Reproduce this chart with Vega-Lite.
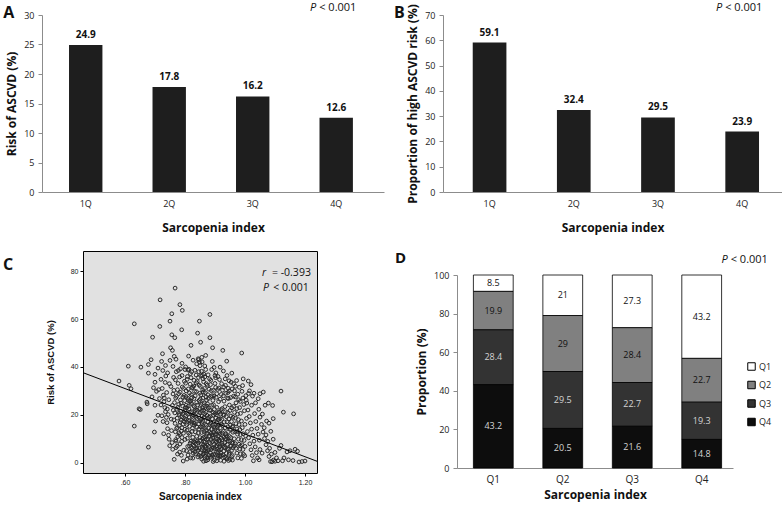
{
  "$schema": "https://vega.github.io/schema/vega-lite/v6.json",
  "padding": {"left": 2, "top": 2, "right": 0, "bottom": 0},
  "background": "white",
  "config": {
    "font": "Open Sans",
    "view": {"stroke": null},
    "axis": {"labelColor": "#222", "titleColor": "#111", "domainColor": "#8c8c8c", "tickColor": "#8c8c8c", "grid": false, "labelFontSize": 9, "titleFontSize": 12, "titleFontWeight": "bold"}
  },
  "resolve": {"scale": {"color": "independent"}, "legend": {"color": "independent"}},
  "concat": [
    {
      "concat": [
        {
          "width": 301, "height": 177,
          "data": {"values": [{"q": "1Q", "v": 24.9}, {"q": "2Q", "v": 17.8}, {"q": "3Q", "v": 16.2}, {"q": "4Q", "v": 12.6}]},
          "layer": [
            {"mark": {"type": "bar", "color": "#1e1e1e"},
             "encoding": {
               "x": {"field": "q", "type": "nominal", "scale": {"range": [-41, 301], "paddingInner": 0.6, "paddingOuter": 0.348, "align": 0.465}, "axis": {"title": "Sarcopenia index", "labelAngle": 0, "ticks": false, "labelPadding": 7, "titlePadding": 14}},
               "y": {"field": "v", "type": "quantitative", "scale": {"domain": [0, 30], "nice": false}, "axis": {"title": "Risk of ASCVD (%)", "values": [0, 5, 10, 15, 20, 25, 30], "offset": 41, "tickSize": 4, "labelPadding": 4, "titlePadding": 5}}
             }},
            {"mark": {"type": "text", "dy": -7, "baseline": "alphabetic", "fontSize": 10, "fontWeight": "bold", "color": "#111"},
             "encoding": {
               "x": {"field": "q", "type": "nominal", "axis": {"title": "Sarcopenia index", "labelAngle": 0, "ticks": false, "labelPadding": 7, "titlePadding": 14}},
               "y": {"field": "v", "type": "quantitative", "axis": {"title": "Risk of ASCVD (%)", "values": [0, 5, 10, 15, 20, 25, 30], "offset": 41, "tickSize": 4, "labelPadding": 4, "titlePadding": 5}},
               "text": {"field": "v", "type": "quantitative", "format": ".1f"}}},
            {"data": {"values": [{}]}, "mark": {"type": "text", "text": "A", "fontSize": 16, "fontWeight": "bold", "align": "left", "baseline": "alphabetic", "dx": -82.5, "color": "#111"},
             "encoding": {"x": {"datum": "1Q", "axis": {"title": "Sarcopenia index", "labelAngle": 0, "ticks": false, "labelPadding": 7, "titlePadding": 14}}, "y": {"datum": 29.5, "axis": {"title": "Risk of ASCVD (%)", "values": [0, 5, 10, 15, 20, 25, 30], "offset": 41, "tickSize": 4, "labelPadding": 4, "titlePadding": 5}}}},
            {"data": {"values": [{}]}, "mark": {"type": "text", "text": "P", "fontStyle": "italic", "fontSize": 11, "align": "right", "baseline": "alphabetic", "dx": -20, "color": "#111"},
             "encoding": {"x": {"datum": "4Q", "axis": {"title": "Sarcopenia index", "labelAngle": 0, "ticks": false, "labelPadding": 7, "titlePadding": 14}}, "y": {"datum": 30.66, "axis": {"title": "Risk of ASCVD (%)", "values": [0, 5, 10, 15, 20, 25, 30], "offset": 41, "tickSize": 4, "labelPadding": 4, "titlePadding": 5}}}},
            {"data": {"values": [{}]}, "mark": {"type": "text", "text": "< 0.001", "fontSize": 11, "align": "left", "baseline": "alphabetic", "dx": -17, "color": "#111"},
             "encoding": {"x": {"datum": "4Q", "axis": {"title": "Sarcopenia index", "labelAngle": 0, "ticks": false, "labelPadding": 7, "titlePadding": 14}}, "y": {"datum": 30.66, "axis": {"title": "Risk of ASCVD (%)", "values": [0, 5, 10, 15, 20, 25, 30], "offset": 41, "tickSize": 4, "labelPadding": 4, "titlePadding": 5}}}}
          ]
        },
        {
          "width": 339, "height": 177,
          "data": {"values": [{"q": "1Q", "v": 59.1}, {"q": "2Q", "v": 32.4}, {"q": "3Q", "v": 29.5}, {"q": "4Q", "v": 23.9}]},
          "layer": [
            {"mark": {"type": "bar", "color": "#1e1e1e"},
             "encoding": {
               "x": {"field": "q", "type": "nominal", "scale": {"paddingInner": 0.6, "paddingOuter": 0.313, "align": 0.564}, "axis": {"title": "Sarcopenia index", "labelAngle": 0, "ticks": false, "labelPadding": 7, "titlePadding": 14}},
               "y": {"field": "v", "type": "quantitative", "scale": {"domain": [0, 70], "nice": false}, "axis": {"title": "Proportion of high ASCVD risk (%)", "values": [0, 10, 20, 30, 40, 50, 60, 70], "tickSize": 4, "labelPadding": 4, "titlePadding": 5}}
             }},
            {"mark": {"type": "text", "dy": -7, "baseline": "alphabetic", "fontSize": 10, "fontWeight": "bold", "color": "#111"},
             "encoding": {
               "x": {"field": "q", "type": "nominal", "axis": {"title": "Sarcopenia index", "labelAngle": 0, "ticks": false, "labelPadding": 7, "titlePadding": 14}},
               "y": {"field": "v", "type": "quantitative", "axis": {"title": "Proportion of high ASCVD risk (%)", "values": [0, 10, 20, 30, 40, 50, 60, 70], "tickSize": 4, "labelPadding": 4, "titlePadding": 5}},
               "text": {"field": "v", "type": "quantitative", "format": ".1f"}}},
            {"data": {"values": [{}]}, "mark": {"type": "text", "text": "B", "fontSize": 16, "fontWeight": "bold", "align": "left", "baseline": "alphabetic", "dx": -95.5, "color": "#111"},
             "encoding": {"x": {"datum": "1Q", "axis": {"title": "Sarcopenia index", "labelAngle": 0, "ticks": false, "labelPadding": 7, "titlePadding": 14}}, "y": {"datum": 68.8, "axis": {"title": "Proportion of high ASCVD risk (%)", "values": [0, 10, 20, 30, 40, 50, 60, 70], "tickSize": 4, "labelPadding": 4, "titlePadding": 5}}}},
            {"data": {"values": [{}]}, "mark": {"type": "text", "text": "P", "fontStyle": "italic", "fontSize": 11, "align": "right", "baseline": "alphabetic", "dx": -20, "color": "#111"},
             "encoding": {"x": {"datum": "4Q", "axis": {"title": "Sarcopenia index", "labelAngle": 0, "ticks": false, "labelPadding": 7, "titlePadding": 14}}, "y": {"datum": 71.5, "axis": {"title": "Proportion of high ASCVD risk (%)", "values": [0, 10, 20, 30, 40, 50, 60, 70], "tickSize": 4, "labelPadding": 4, "titlePadding": 5}}}},
            {"data": {"values": [{}]}, "mark": {"type": "text", "text": "< 0.001", "fontSize": 11, "align": "left", "baseline": "alphabetic", "dx": -17, "color": "#111"},
             "encoding": {"x": {"datum": "4Q", "axis": {"title": "Sarcopenia index", "labelAngle": 0, "ticks": false, "labelPadding": 7, "titlePadding": 14}}, "y": {"datum": 71.5, "axis": {"title": "Proportion of high ASCVD risk (%)", "values": [0, 10, 20, 30, 40, 50, 60, 70], "tickSize": 4, "labelPadding": 4, "titlePadding": 5}}}}
          ]
        }
      ],
      "columns": 2, "align": "none", "spacing": -31
    },
    {
      "concat": [
        {
          "width": 234, "height": 222,
          "view": {"fill": "#e1e1e1", "stroke": "#000000", "strokeWidth": 1},
          "layer": [
            {
              "data": {"values": [
{"x":0.58,"y":34.1},{"x":0.611,"y":40.3},{"x":0.614,"y":32.3},{"x":0.62,"y":30.9},{"x":0.631,"y":58.0},{"x":0.631,"y":15.3},{"x":0.647,"y":22.5},{"x":0.651,"y":22.2},{"x":0.653,"y":39.9},{"x":0.673,"y":25.3},{"x":0.674,"y":24.6},{"x":0.678,"y":41.0},{"x":0.678,"y":37.4},{"x":0.678,"y":6.5},{"x":0.687,"y":43.0},{"x":0.692,"y":52.4},{"x":0.695,"y":31.3},{"x":0.698,"y":12.8},{"x":0.7,"y":36.9},{"x":0.702,"y":17.4},{"x":0.69,"y":27.5},{"x":0.7,"y":24.0},{"x":0.705,"y":29.8},{"x":0.71,"y":19.8},{"x":0.712,"y":30.5},
{"x":0.716,"y":56.9},{"x":0.717,"y":68.0},{"x":0.722,"y":42.3},{"x":0.726,"y":38.5},{"x":0.72,"y":34.8},{"x":0.724,"y":31.0},{"x":0.728,"y":28.2},{"x":0.73,"y":25.5},{"x":0.733,"y":23.0},{"x":0.735,"y":21.3},{"x":0.738,"y":18.9},{"x":0.74,"y":16.7},{"x":0.742,"y":14.2},{"x":0.745,"y":11.5},{"x":0.747,"y":9.8},{"x":0.749,"y":7.1},{"x":0.72,"y":24.1},{"x":0.723,"y":19.6},{"x":0.727,"y":17.2},{"x":0.729,"y":12.1},{"x":0.731,"y":27.0},{"x":0.734,"y":33.5},{"x":0.736,"y":36.2},{"x":0.739,"y":29.3},{"x":0.741,"y":22.4},{"x":0.744,"y":20.1},{"x":0.746,"y":26.3},{"x":0.75,"y":42.7},{"x":0.75,"y":59.1},{"x":0.752,"y":48.0},{"x":0.753,"y":31.8},{"x":0.754,"y":18.2},{"x":0.755,"y":13.4},{"x":0.756,"y":62.2},{"x":0.756,"y":53.4},{"x":0.757,"y":8.4},{"x":0.758,"y":46.9},{"x":0.758,"y":23.9},{"x":0.759,"y":5.6},{"x":0.76,"y":28.7},
{"x":0.764,"y":44.4},{"x":0.766,"y":52.2},{"x":0.767,"y":72.9},{"x":0.764,"y":1.4},{"x":0.762,"y":35.6},{"x":0.763,"y":30.2},{"x":0.765,"y":25.1},{"x":0.766,"y":20.8},{"x":0.767,"y":16.4},{"x":0.768,"y":12.9},{"x":0.769,"y":9.6},{"x":0.77,"y":6.3},{"x":0.771,"y":38.0},{"x":0.772,"y":27.7},{"x":0.773,"y":22.3},{"x":0.774,"y":18.6},{"x":0.775,"y":14.7},{"x":0.776,"y":10.9},{"x":0.777,"y":33.1},{"x":0.778,"y":38.5},{"x":0.779,"y":24.4},{"x":0.78,"y":19.9},{"x":0.781,"y":15.5},{"x":0.782,"y":11.7},{"x":0.783,"y":66.0},{"x":0.783,"y":7.8},{"x":0.784,"y":29.4},{"x":0.785,"y":26.2},{"x":0.786,"y":21.5},{"x":0.787,"y":17.8},{"x":0.788,"y":13.2},{"x":0.789,"y":55.5},{"x":0.789,"y":8.9},{"x":0.79,"y":36.4},{"x":0.791,"y":63.6},{"x":0.791,"y":31.6},{"x":0.792,"y":23.7},{"x":0.793,"y":20.3},{"x":0.794,"y":0.7},{"x":0.794,"y":16.1},{"x":0.795,"y":12.3},{"x":0.796,"y":5.2},{"x":0.797,"y":28.1},{"x":0.798,"y":34.0},{"x":0.799,"y":25.9},{"x":0.8,"y":38.9},{"x":0.8,"y":22.0},{"x":0.8,"y":18.4},{"x":0.8,"y":14.0},{"x":0.8,"y":9.7},{"x":0.761,"y":21.9},{"x":0.763,"y":17.9},{"x":0.769,"y":27.0},{"x":0.772,"y":14.3},{"x":0.776,"y":23.1},{"x":0.779,"y":28.8},{"x":0.781,"y":20.6},{"x":0.784,"y":17.0},{"x":0.787,"y":24.8},{"x":0.79,"y":19.2},{"x":0.793,"y":27.4},{"x":0.796,"y":21.0},{"x":0.798,"y":17.1},{"x":0.774,"y":6.9},{"x":0.782,"y":4.4},{"x":0.788,"y":3.1},{"x":0.77,"y":43.2},{"x":0.785,"y":39.2},
{"x":0.802,"y":33.2},{"x":0.803,"y":27.6},{"x":0.804,"y":24.0},{"x":0.805,"y":20.7},{"x":0.806,"y":16.9},{"x":0.807,"y":13.6},{"x":0.808,"y":10.2},{"x":0.809,"y":6.8},{"x":0.81,"y":38.7},{"x":0.811,"y":30.8},{"x":0.812,"y":26.0},{"x":0.813,"y":22.5},{"x":0.814,"y":19.1},{"x":0.815,"y":15.2},{"x":0.816,"y":11.8},{"x":0.817,"y":8.1},{"x":0.818,"y":4.7},{"x":0.819,"y":2.0},{"x":0.82,"y":49.0},{"x":0.82,"y":35.5},{"x":0.821,"y":28.4},{"x":0.822,"y":24.7},{"x":0.823,"y":21.3},{"x":0.824,"y":17.6},{"x":0.825,"y":14.4},{"x":0.826,"y":10.6},{"x":0.827,"y":7.4},{"x":0.828,"y":3.9},{"x":0.829,"y":32.0},{"x":0.83,"y":26.8},{"x":0.831,"y":23.4},{"x":0.832,"y":19.8},{"x":0.833,"y":16.3},{"x":0.834,"y":12.9},{"x":0.835,"y":9.2},{"x":0.836,"y":5.8},{"x":0.837,"y":36.6},{"x":0.838,"y":29.7},{"x":0.839,"y":41.3},{"x":0.839,"y":25.2},{"x":0.84,"y":21.9},{"x":0.84,"y":18.2},{"x":0.84,"y":14.8},{"x":0.84,"y":6.1},{"x":0.842,"y":54.1},{"x":0.844,"y":43.4},{"x":0.803,"y":18.0},{"x":0.806,"y":22.9},{"x":0.809,"y":26.9},{"x":0.812,"y":12.4},{"x":0.815,"y":29.1},{"x":0.818,"y":21.0},{"x":0.821,"y":17.0},{"x":0.824,"y":13.1},{"x":0.827,"y":20.0},{"x":0.83,"y":15.7},{"x":0.833,"y":8.5},{"x":0.836,"y":22.2},{"x":0.839,"y":11.0},{"x":0.805,"y":5.0},{"x":0.81,"y":3.2},{"x":0.815,"y":7.0},{"x":0.82,"y":9.0},{"x":0.825,"y":5.3},{"x":0.83,"y":6.9},{"x":0.835,"y":3.7},{"x":0.804,"y":30.0},{"x":0.808,"y":36.0},{"x":0.813,"y":39.0},{"x":0.817,"y":32.8},{"x":0.822,"y":38.0},{"x":0.826,"y":31.5},{"x":0.83,"y":34.4},{"x":0.834,"y":27.9},{"x":0.838,"y":33.3},{"x":0.811,"y":23.6},{"x":0.816,"y":25.5},{"x":0.823,"y":27.2},{"x":0.828,"y":23.9},{"x":0.832,"y":29.8},{"x":0.807,"y":1.5},{"x":0.826,"y":1.9},{"x":0.841,"y":9.0},{"x":0.843,"y":2.4},
{"x":0.848,"y":59.1},{"x":0.852,"y":50.3},{"x":0.846,"y":43.0},{"x":0.848,"y":42.0},{"x":0.85,"y":40.5},{"x":0.855,"y":38.2},{"x":0.858,"y":36.5},{"x":0.86,"y":35.0},{"x":0.862,"y":33.8},{"x":0.865,"y":31.0},{"x":0.868,"y":29.2},{"x":0.87,"y":27.5},{"x":0.872,"y":26.1},{"x":0.875,"y":24.6},{"x":0.878,"y":22.8},{"x":0.845,"y":35.6},{"x":0.847,"y":32.4},{"x":0.849,"y":29.0},{"x":0.851,"y":26.6},{"x":0.853,"y":24.3},{"x":0.855,"y":21.7},{"x":0.857,"y":19.5},{"x":0.859,"y":17.3},{"x":0.861,"y":15.1},{"x":0.863,"y":13.0},{"x":0.865,"y":10.8},{"x":0.867,"y":8.6},{"x":0.869,"y":6.4},{"x":0.871,"y":4.3},{"x":0.873,"y":2.2},{"x":0.846,"y":20.0},{"x":0.849,"y":17.5},{"x":0.852,"y":15.0},{"x":0.855,"y":12.6},{"x":0.858,"y":10.0},{"x":0.861,"y":7.5},{"x":0.864,"y":5.0},{"x":0.867,"y":2.7},{"x":0.87,"y":0.8},{"x":0.873,"y":19.8},{"x":0.876,"y":17.0},{"x":0.879,"y":14.4},{"x":0.845,"y":8.2},{"x":0.848,"y":6.0},{"x":0.851,"y":4.0},{"x":0.854,"y":7.8},{"x":0.857,"y":5.5},{"x":0.86,"y":3.3},{"x":0.863,"y":8.9},{"x":0.866,"y":6.8},{"x":0.869,"y":4.9},{"x":0.872,"y":9.6},{"x":0.875,"y":7.3},{"x":0.878,"y":5.1},{"x":0.88,"y":3.0},{"x":0.845,"y":12.5},{"x":0.85,"y":10.5},{"x":0.856,"y":14.8},{"x":0.862,"y":18.8},{"x":0.868,"y":16.0},{"x":0.874,"y":12.2},{"x":0.877,"y":9.9},{"x":0.847,"y":26.0},{"x":0.853,"y":28.3},{"x":0.859,"y":30.4},{"x":0.864,"y":25.0},{"x":0.87,"y":21.0},{"x":0.876,"y":28.4},{"x":0.869,"y":38.9},{"x":0.883,"y":61.9},{"x":0.883,"y":52.2},{"x":0.889,"y":38.9},{"x":0.869,"y":44.8},{"x":0.866,"y":35.8},{"x":0.85,"y":22.5},{"x":0.854,"y":18.0},{"x":0.858,"y":24.7},{"x":0.862,"y":22.0},{"x":0.866,"y":20.4},{"x":0.871,"y":15.6},{"x":0.874,"y":32.4},{"x":0.878,"y":26.8},{"x":0.88,"y":19.0},{"x":0.88,"y":11.0},{"x":0.856,"y":1.5},{"x":0.862,"y":0.6},{"x":0.876,"y":1.2},{"x":0.846,"y":16.2},{"x":0.86,"y":27.0},{"x":0.872,"y":13.5},{"x":0.867,"y":23.0},{"x":0.852,"y":36.3},{"x":0.857,"y":42.1},{"x":0.863,"y":37.0},
{"x":0.892,"y":48.0},{"x":0.882,"y":35.0},{"x":0.885,"y":32.6},{"x":0.888,"y":30.1},{"x":0.89,"y":28.0},{"x":0.893,"y":26.0},{"x":0.895,"y":24.2},{"x":0.898,"y":22.3},{"x":0.9,"y":20.5},{"x":0.903,"y":18.7},{"x":0.905,"y":16.8},{"x":0.908,"y":15.0},{"x":0.91,"y":13.1},{"x":0.912,"y":11.3},{"x":0.915,"y":9.4},{"x":0.918,"y":7.6},{"x":0.92,"y":5.7},{"x":0.882,"y":22.0},{"x":0.884,"y":19.3},{"x":0.886,"y":16.6},{"x":0.888,"y":14.0},{"x":0.89,"y":11.4},{"x":0.892,"y":8.8},{"x":0.894,"y":6.2},{"x":0.896,"y":3.6},{"x":0.898,"y":1.1},{"x":0.9,"y":36.4},{"x":0.902,"y":31.4},{"x":0.904,"y":27.3},{"x":0.906,"y":23.1},{"x":0.908,"y":20.9},{"x":0.91,"y":17.9},{"x":0.912,"y":25.5},{"x":0.914,"y":21.2},{"x":0.916,"y":18.4},{"x":0.918,"y":14.6},{"x":0.884,"y":8.0},{"x":0.887,"y":5.5},{"x":0.89,"y":3.2},{"x":0.893,"y":10.4},{"x":0.896,"y":12.7},{"x":0.899,"y":9.2},{"x":0.902,"y":6.8},{"x":0.905,"y":4.4},{"x":0.908,"y":2.0},{"x":0.911,"y":7.9},{"x":0.914,"y":5.3},{"x":0.917,"y":3.0},{"x":0.919,"y":1.0},{"x":0.885,"y":27.6},{"x":0.889,"y":24.0},{"x":0.893,"y":21.0},{"x":0.897,"y":17.0},{"x":0.901,"y":14.6},{"x":0.905,"y":11.9},{"x":0.909,"y":9.9},{"x":0.913,"y":15.9},{"x":0.917,"y":12.0},{"x":0.92,"y":10.2},{"x":0.887,"y":12.3},{"x":0.891,"y":15.8},{"x":0.895,"y":19.9},{"x":0.899,"y":13.8},{"x":0.903,"y":10.0},{"x":0.907,"y":7.1},{"x":0.911,"y":4.6},{"x":0.915,"y":2.6},{"x":0.919,"y":20.3},{"x":0.92,"y":16.0},{"x":0.895,"y":30.2},{"x":0.9,"y":33.1},{"x":0.906,"y":28.8},{"x":0.913,"y":31.2},{"x":0.917,"y":26.5},{"x":0.91,"y":36.0},{"x":0.897,"y":39.8},{"x":0.903,"y":37.5},{"x":0.917,"y":39.9},{"x":0.894,"y":0.5},{"x":0.906,"y":0.8},{"x":0.881,"y":6.8},{"x":0.886,"y":2.3},{"x":0.899,"y":5.9},{"x":0.912,"y":18.2},{"x":0.884,"y":16.0},
{"x":0.926,"y":46.9},{"x":0.939,"y":42.4},{"x":0.94,"y":36.4},{"x":0.922,"y":33.0},{"x":0.925,"y":30.3},{"x":0.928,"y":27.9},{"x":0.93,"y":25.7},{"x":0.933,"y":23.4},{"x":0.935,"y":21.3},{"x":0.938,"y":19.2},{"x":0.94,"y":17.1},{"x":0.943,"y":15.0},{"x":0.945,"y":13.0},{"x":0.948,"y":11.0},{"x":0.95,"y":9.0},{"x":0.953,"y":7.0},{"x":0.955,"y":5.0},{"x":0.958,"y":3.0},{"x":0.922,"y":18.1},{"x":0.925,"y":15.5},{"x":0.928,"y":13.1},{"x":0.93,"y":10.7},{"x":0.933,"y":8.3},{"x":0.935,"y":6.1},{"x":0.938,"y":3.9},{"x":0.94,"y":1.7},{"x":0.943,"y":29.3},{"x":0.945,"y":26.8},{"x":0.948,"y":24.1},{"x":0.95,"y":21.8},{"x":0.953,"y":19.5},{"x":0.955,"y":17.2},{"x":0.958,"y":14.9},{"x":0.96,"y":12.7},{"x":0.923,"y":9.6},{"x":0.926,"y":7.2},{"x":0.929,"y":4.8},{"x":0.932,"y":2.4},{"x":0.935,"y":12.0},{"x":0.938,"y":9.8},{"x":0.941,"y":7.7},{"x":0.944,"y":5.6},{"x":0.947,"y":3.5},{"x":0.95,"y":1.4},{"x":0.953,"y":10.5},{"x":0.956,"y":8.4},{"x":0.959,"y":6.3},{"x":0.924,"y":22.6},{"x":0.927,"y":20.1},{"x":0.931,"y":17.0},{"x":0.934,"y":14.6},{"x":0.937,"y":11.3},{"x":0.942,"y":21.0},{"x":0.946,"y":18.3},{"x":0.951,"y":15.7},{"x":0.956,"y":22.9},{"x":0.96,"y":19.0},{"x":0.929,"y":31.5},{"x":0.936,"y":29.0},{"x":0.944,"y":31.1},{"x":0.952,"y":27.2},{"x":0.957,"y":30.8},{"x":0.934,"y":35.0},{"x":0.956,"y":37.4},{"x":0.947,"y":34.2},{"x":0.921,"y":3.0},{"x":0.93,"y":0.6},{"x":0.945,"y":0.9},{"x":0.958,"y":1.1},
{"x":0.962,"y":33.0},{"x":0.965,"y":30.0},{"x":0.968,"y":27.5},{"x":0.97,"y":25.0},{"x":0.973,"y":22.6},{"x":0.975,"y":20.3},{"x":0.978,"y":18.0},{"x":0.98,"y":15.9},{"x":0.983,"y":13.8},{"x":0.985,"y":11.7},{"x":0.988,"y":9.6},{"x":0.99,"y":7.5},{"x":0.993,"y":5.5},{"x":0.995,"y":3.5},{"x":0.962,"y":23.5},{"x":0.965,"y":21.0},{"x":0.968,"y":18.6},{"x":0.97,"y":16.3},{"x":0.973,"y":14.1},{"x":0.975,"y":11.9},{"x":0.978,"y":9.8},{"x":0.98,"y":7.7},{"x":0.983,"y":5.7},{"x":0.985,"y":3.7},{"x":0.988,"y":1.8},{"x":0.989,"y":45.8},{"x":0.994,"y":35.0},{"x":0.99,"y":29.8},{"x":0.993,"y":27.0},{"x":0.996,"y":24.3},{"x":0.998,"y":21.7},{"x":0.964,"y":10.0},{"x":0.967,"y":8.0},{"x":0.97,"y":6.0},{"x":0.973,"y":4.0},{"x":0.976,"y":2.0},{"x":0.979,"y":26.3},{"x":0.982,"y":23.0},{"x":0.985,"y":20.6},{"x":0.988,"y":17.4},{"x":0.991,"y":14.6},{"x":0.994,"y":12.1},{"x":0.997,"y":9.3},{"x":1.0,"y":6.8},{"x":1.0,"y":16.0},{"x":0.981,"y":31.5},{"x":0.972,"y":34.3},{"x":0.999,"y":2.9},{"x":0.96,"y":15.3},{"x":0.966,"y":13.0},
{"x":1.011,"y":34.1},{"x":1.003,"y":28.0},{"x":1.006,"y":24.9},{"x":1.01,"y":22.0},{"x":1.014,"y":19.3},{"x":1.018,"y":16.6},{"x":1.022,"y":14.0},{"x":1.026,"y":11.5},{"x":1.03,"y":9.0},{"x":1.034,"y":6.6},{"x":1.038,"y":4.2},{"x":1.042,"y":2.0},{"x":1.005,"y":18.5},{"x":1.008,"y":13.0},{"x":1.012,"y":10.4},{"x":1.016,"y":7.9},{"x":1.02,"y":5.4},{"x":1.024,"y":3.0},{"x":1.028,"y":0.8},{"x":1.032,"y":20.5},{"x":1.036,"y":17.2},{"x":1.04,"y":14.3},{"x":1.044,"y":11.9},{"x":1.048,"y":9.4},{"x":1.044,"y":26.7},{"x":1.05,"y":28.8},{"x":1.05,"y":19.0},{"x":1.046,"y":22.3},{"x":1.035,"y":25.0},{"x":1.025,"y":27.8},{"x":1.015,"y":30.0},{"x":1.02,"y":32.6},{"x":1.05,"y":5.5},{"x":1.047,"y":1.2},{"x":1.002,"y":11.2},
{"x":1.061,"y":29.5},{"x":1.078,"y":24.9},{"x":1.092,"y":23.9},{"x":1.094,"y":18.4},{"x":1.055,"y":16.0},{"x":1.06,"y":12.8},{"x":1.065,"y":10.1},{"x":1.07,"y":7.5},{"x":1.075,"y":5.0},{"x":1.08,"y":2.6},{"x":1.085,"y":0.5},{"x":1.09,"y":0.4},{"x":1.095,"y":1.1},{"x":1.1,"y":0.6},{"x":1.058,"y":20.3},{"x":1.064,"y":14.6},{"x":1.07,"y":11.6},{"x":1.076,"y":8.9},{"x":1.082,"y":6.0},{"x":1.088,"y":3.6},{"x":1.094,"y":9.8},{"x":1.1,"y":4.3},{"x":1.105,"y":2.0},{"x":1.11,"y":0.8},{"x":1.072,"y":17.4},{"x":1.086,"y":13.1},{"x":1.067,"y":24.0},{"x":1.057,"y":4.0},{"x":1.08,"y":16.5},{"x":1.115,"y":6.0},
{"x":1.12,"y":29.9},{"x":1.128,"y":21.1},{"x":1.162,"y":20.4},{"x":1.12,"y":7.2},{"x":1.13,"y":2.0},{"x":1.14,"y":4.5},{"x":1.15,"y":5.0},{"x":1.167,"y":5.6},{"x":1.175,"y":4.8},{"x":1.16,"y":0.9},{"x":1.18,"y":0.3},{"x":1.19,"y":0.5},{"x":1.2,"y":0.7},{"x":1.125,"y":0.8},{"x":1.145,"y":1.2},
{"x":0.822,"y":6.2},{"x":0.828,"y":8.8},{"x":0.834,"y":4.6},{"x":0.838,"y":7.9},{"x":0.843,"y":5.2},{"x":0.847,"y":3.1},{"x":0.851,"y":9.3},{"x":0.853,"y":2.6},{"x":0.858,"y":6.4},{"x":0.861,"y":10.4},{"x":0.864,"y":3.9},{"x":0.868,"y":7.0},{"x":0.871,"y":11.3},{"x":0.874,"y":4.8},{"x":0.877,"y":2.1},{"x":0.881,"y":8.4},{"x":0.884,"y":4.2},{"x":0.887,"y":9.7},{"x":0.889,"y":6.1},{"x":0.892,"y":2.9},{"x":0.894,"y":11.6},{"x":0.897,"y":7.7},{"x":0.901,"y":3.4},{"x":0.904,"y":8.6},{"x":0.907,"y":5.6},{"x":0.91,"y":2.8},{"x":0.913,"y":9.1},{"x":0.916,"y":6.6},{"x":0.92,"y":4.0},{"x":0.924,"y":8.0},{"x":0.927,"y":3.3},{"x":0.931,"y":6.5},{"x":0.934,"y":10.1},{"x":0.937,"y":2.2},{"x":0.941,"y":5.9},{"x":0.944,"y":9.0},{"x":0.948,"y":4.3},{"x":0.952,"y":6.9},{"x":0.955,"y":2.5},{"x":0.96,"y":8.1},{"x":0.79,"y":14.6},{"x":0.795,"y":18.7},{"x":0.801,"y":23.0},{"x":0.806,"y":15.9},{"x":0.81,"y":20.2},{"x":0.815,"y":17.4},{"x":0.819,"y":25.7},{"x":0.824,"y":19.4},{"x":0.829,"y":16.6},{"x":0.833,"y":21.7},{"x":0.837,"y":18.9},{"x":0.842,"y":24.1},{"x":0.846,"y":14.0},{"x":0.85,"y":20.8},{"x":0.855,"y":16.9},{"x":0.859,"y":22.8},{"x":0.864,"y":19.0},{"x":0.868,"y":13.4},{"x":0.873,"y":23.6},{"x":0.877,"y":18.6},{"x":0.882,"y":12.9},{"x":0.886,"y":21.8},{"x":0.891,"y":18.3},{"x":0.896,"y":14.9},{"x":0.9,"y":11.8},{"x":0.905,"y":20.0},{"x":0.91,"y":15.6},{"x":0.914,"y":12.6},{"x":0.92,"y":22.1},{"x":0.925,"y":12.4},{"x":0.93,"y":19.8},{"x":0.94,"y":10.9},{"x":0.95,"y":13.9},{"x":0.965,"y":6.9},{"x":0.975,"y":13.0},{"x":0.985,"y":7.0},{"x":0.77,"y":9.0},{"x":0.775,"y":3.6},{"x":0.78,"y":12.5},{"x":0.79,"y":10.5},
{"x":0.742,"y":37.5},{"x":0.748,"y":33.0},{"x":0.76,"y":40.2},{"x":0.768,"y":34.6},{"x":0.775,"y":30.5},{"x":0.782,"y":35.8},{"x":0.79,"y":41.5},{"x":0.795,"y":31.0},{"x":0.802,"y":40.0},{"x":0.807,"y":34.8},{"x":0.812,"y":44.5},{"x":0.818,"y":37.2},{"x":0.823,"y":31.2},{"x":0.827,"y":42.8},{"x":0.833,"y":38.6},{"x":0.841,"y":33.9},{"x":0.846,"y":38.0},{"x":0.851,"y":31.9},{"x":0.856,"y":44.0},{"x":0.861,"y":29.5},{"x":0.866,"y":40.4},{"x":0.871,"y":33.0},{"x":0.877,"y":36.7},{"x":0.88,"y":30.7},{"x":0.886,"y":34.4},{"x":0.891,"y":42.3},{"x":0.897,"y":27.9},{"x":0.902,"y":35.5},{"x":0.909,"y":30.6},{"x":0.915,"y":34.7},{"x":0.921,"y":28.5},{"x":0.928,"y":38.3},{"x":0.935,"y":32.3},{"x":0.942,"y":27.0},{"x":0.948,"y":30.0},{"x":0.954,"y":33.6},{"x":0.962,"y":27.8},{"x":0.968,"y":31.9},{"x":0.976,"y":28.6},{"x":0.984,"y":25.6},{"x":0.992,"y":32.2},{"x":1.004,"y":26.1},{"x":1.012,"y":28.9},{"x":1.022,"y":24.0},{"x":1.03,"y":29.0},{"x":0.7,"y":33.6},{"x":0.71,"y":39.5},{"x":0.715,"y":26.8},{"x":0.725,"y":45.5},{"x":0.735,"y":40.6}
              ]},
              "mark": {"type": "point", "shape": "circle", "filled": false, "size": 14, "strokeWidth": 1, "color": "#2a2a2a", "opacity": 1},
              "encoding": {
                "x": {"field": "x", "type": "quantitative", "scale": {"domain": [0.46, 1.24], "nice": false, "zero": false}, "axis": {"title": "Sarcopenia index", "values": [0.6, 0.8, 1.0, 1.2], "labelExpr": "datum.value < 1 ? replace(format(datum.value, '.2f'), '0.', '.') : format(datum.value, '.2f')", "domain": false, "tickColor": "#000", "tickSize": 3, "labelFont": "Liberation Sans", "labelFontSize": 7, "labelColor": "#222", "labelPadding": 2, "titleFont": "Liberation Sans", "titleFontSize": 10, "titlePadding": 6}},
                "y": {"field": "y", "type": "quantitative", "scale": {"domain": [-4.3, 88.4], "nice": false, "zero": false}, "axis": {"title": "Risk of ASCVD (%)", "values": [0, 20, 40, 60, 80], "domain": false, "tickColor": "#000", "tickSize": 3, "labelFont": "Liberation Sans", "labelFontSize": 7, "labelColor": "#222", "labelPadding": 2, "titleFont": "Liberation Sans", "titleFontSize": 9.5, "titlePadding": 15}}
              }
            },
            {
              "data": {"values": [{"x": 0.46, "y": 37.6}, {"x": 1.24, "y": 0.6}]},
              "mark": {"type": "line", "color": "#000", "strokeWidth": 1},
              "encoding": {"x": {"field": "x", "type": "quantitative"}, "y": {"field": "y", "type": "quantitative"}}
            },
            {"data": {"values": [{}]}, "mark": {"type": "text", "text": "C", "fontSize": 16, "fontWeight": "bold", "align": "left", "baseline": "alphabetic", "color": "#111"}, "encoding": {"x": {"datum": 0.193}, "y": {"datum": 80.5}}},
            {"data": {"values": [{}]}, "mark": {"type": "text", "text": "D", "fontSize": 15, "fontWeight": "bold", "align": "left", "baseline": "alphabetic", "color": "#111"}, "encoding": {"x": {"datum": 1.5}, "y": {"datum": 83.4}}},
            {"data": {"values": [{}]}, "mark": {"type": "text", "text": "r", "fontStyle": "italic", "fontSize": 10.5, "align": "left", "baseline": "alphabetic", "color": "#111"}, "encoding": {"x": {"datum": 1.057}, "y": {"datum": 77.9}}},
            {"data": {"values": [{}]}, "mark": {"type": "text", "text": "= -0.393", "fontSize": 10.5, "align": "left", "baseline": "alphabetic", "color": "#111"}, "encoding": {"x": {"datum": 1.09}, "y": {"datum": 77.9}}},
            {"data": {"values": [{}]}, "mark": {"type": "text", "text": "P", "fontStyle": "italic", "fontSize": 10.5, "align": "left", "baseline": "alphabetic", "color": "#111"}, "encoding": {"x": {"datum": 1.06}, "y": {"datum": 71.9}}},
            {"data": {"values": [{}]}, "mark": {"type": "text", "text": "< 0.001", "fontSize": 10.5, "align": "left", "baseline": "alphabetic", "color": "#111"}, "encoding": {"x": {"datum": 1.094}, "y": {"datum": 71.9}}}
          ]
        },
        {
          "width": 276, "height": 217,
          "data": {"values": [
            {"group": "Q1", "part": "Q1", "value": 8.5}, {"group": "Q1", "part": "Q2", "value": 19.9}, {"group": "Q1", "part": "Q3", "value": 28.4}, {"group": "Q1", "part": "Q4", "value": 43.2},
            {"group": "Q2", "part": "Q1", "value": 21}, {"group": "Q2", "part": "Q2", "value": 29}, {"group": "Q2", "part": "Q3", "value": 29.5}, {"group": "Q2", "part": "Q4", "value": 20.5},
            {"group": "Q3", "part": "Q1", "value": 27.3}, {"group": "Q3", "part": "Q2", "value": 28.4}, {"group": "Q3", "part": "Q3", "value": 22.7}, {"group": "Q3", "part": "Q4", "value": 21.6},
            {"group": "Q4", "part": "Q1", "value": 43.2}, {"group": "Q4", "part": "Q2", "value": 22.7}, {"group": "Q4", "part": "Q3", "value": 19.3}, {"group": "Q4", "part": "Q4", "value": 14.8}
          ]},
          "layer": [
            {
              "mark": {"type": "bar", "stroke": "#000", "strokeWidth": 0.8},
              "encoding": {
                "x": {"field": "group", "type": "nominal", "scale": {"paddingInner": 0.427, "paddingOuter": 0.2, "align": 0.59}, "axis": {"title": "Sarcopenia index", "labelAngle": 0, "ticks": false, "labelFontSize": 10, "labelPadding": 6, "titlePadding": 5}},
                "y": {"field": "value", "type": "quantitative", "stack": "zero", "scale": {"domain": [0, 100], "nice": false, "range": [217, 24]}, "axis": {"title": "Proportion (%)", "values": [0, 20, 40, 60, 80, 100], "tickSize": 4, "labelPadding": 4, "titlePadding": 5}},
                "color": {"field": "part", "type": "nominal", "scale": {"domain": ["Q1", "Q2", "Q3", "Q4"], "range": ["#ffffff", "#808080", "#333333", "#0d0d0d"]}, "legend": {"title": null, "orient": "none", "legendX": 290, "legendY": 111, "symbolType": "square", "symbolSize": 56, "symbolStrokeColor": "#000", "symbolStrokeWidth": 1, "labelFontSize": 9, "labelColor": "#222", "labelOffset": 3, "rowPadding": 5.5, "padding": 0}},
                "order": {"field": "part", "sort": "descending"}
              }
            },
            {
              "mark": {"type": "text", "fontSize": 9},
              "encoding": {
                "x": {"field": "group", "type": "nominal", "axis": {"title": "Sarcopenia index", "labelAngle": 0, "ticks": false, "labelFontSize": 10, "labelPadding": 6, "titlePadding": 5}},
                "y": {"field": "value", "type": "quantitative", "stack": "zero", "bandPosition": 0.5, "axis": {"title": "Proportion (%)", "values": [0, 20, 40, 60, 80, 100], "tickSize": 4, "labelPadding": 4, "titlePadding": 5}},
                "detail": {"field": "part"},
                "order": {"field": "part", "sort": "descending"},
                "text": {"field": "value", "type": "quantitative"},
                "color": {"condition": {"test": "datum.part === 'Q3' || datum.part === 'Q4'", "value": "#d4d4d4"}, "value": "#111111"}
              }
            },
            {"data": {"values": [{}]}, "mark": {"type": "text", "text": "P", "fontStyle": "italic", "fontSize": 11, "align": "right", "baseline": "alphabetic", "dx": 26, "color": "#111"}, "encoding": {"x": {"datum": "Q4"}, "y": {"datum": 106.4}}},
            {"data": {"values": [{}]}, "mark": {"type": "text", "text": "< 0.001", "fontSize": 11, "align": "left", "baseline": "alphabetic", "dx": 29, "color": "#111"}, "encoding": {"x": {"datum": "Q4"}, "y": {"datum": 106.4}}}
          ]
        }
      ],
      "columns": 2, "align": "none", "spacing": 8,
      "resolve": {"scale": {"color": "independent"}, "legend": {"color": "independent"}}
    }
  ],
  "columns": 1, "align": "none", "spacing": 17
}
